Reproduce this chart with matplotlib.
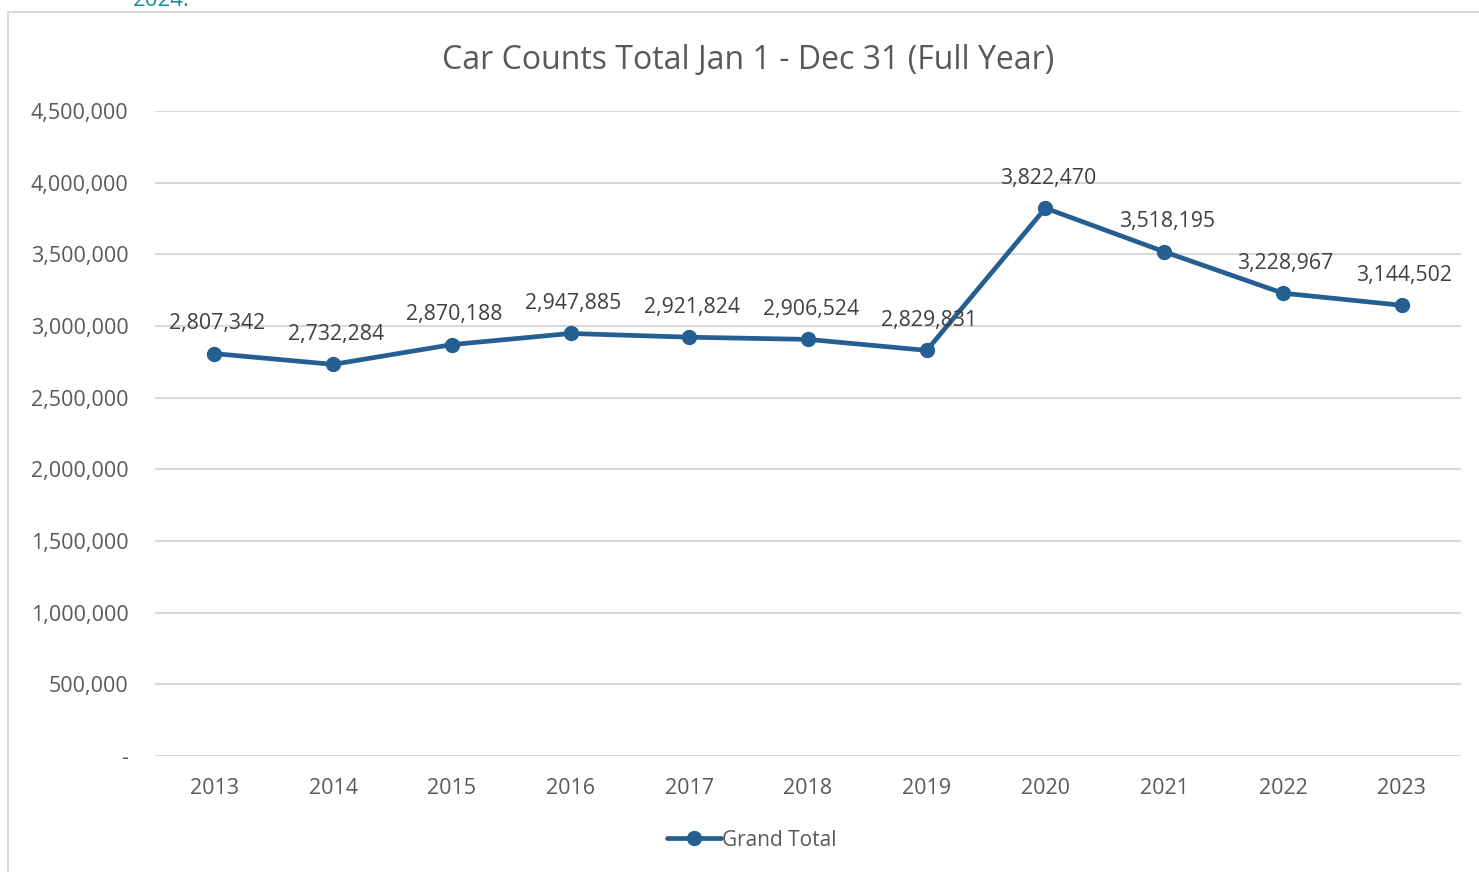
import matplotlib.pyplot as plt
from matplotlib.patches import Rectangle
from matplotlib.ticker import FuncFormatter

# données
annees = ['2013', '2014', '2015', '2016', '2017', '2018', '2019', '2020', '2021', '2022', '2023']
totaux = [2807342, 2732284, 2870188, 2947885, 2921824, 2906524, 2829831, 3822470, 3518195, 3228967, 3144502]
graduations = [0, 500000, 1000000, 1500000, 2000000, 2500000, 3000000, 3500000, 4000000, 4500000]

bleu = '#255E91'
gris_txt = '#595959'
gris_grille = '#D9D9D9'

plt.rcParams['font.family'] = ['Open Sans', 'DejaVu Sans']

fig = plt.figure(figsize=(14.79, 8.72), dpi=100)
ax = fig.add_axes([155/1479, 1-756/872, 1306/1479, 645/872])

# cadre du graphique (coupé à droite et en bas)
fig.patches.append(Rectangle((8/1479, -0.1), 1.2, 1-12/872+0.1, transform=fig.transFigure,
                             fill=False, edgecolor=gris_grille, linewidth=1.5))
# bout de texte coupé en haut, comme sur la capture
fig.text(133/1479, 1.0, '2024.', color='#1A8A96', fontsize=16, va='center', ha='left')

x = list(range(len(annees)))
ax.plot(x, totaux, color=bleu, linewidth=3.4, marker='o', markersize=10,
        solid_capstyle='round', label='Grand Total', zorder=3)

for xi, v in zip(x, totaux):
    ax.annotate(f'{v:,}', (xi, v), xytext=(2, 14), textcoords='offset points',
                ha='center', va='bottom', fontsize=15.3, color='#404040')

ax.set_xlim(-0.5, len(annees) - 0.5)
ax.set_ylim(0, 4500000)
ax.set_yticks(graduations)
ax.yaxis.set_major_formatter(FuncFormatter(lambda v, p: '-' if v == 0 else f'{int(v):,}'))
ax.set_xticks(x)
ax.set_xticklabels(annees)
ax.tick_params(axis='both', length=0, labelsize=15.5, labelcolor=gris_txt)
ax.tick_params(axis='y', pad=19)
ax.tick_params(axis='x', pad=16)
ax.grid(axis='y', color=gris_grille, linewidth=1.5)
ax.set_axisbelow(True)
for s in ax.spines.values():
    s.set_visible(False)

ax.set_title('Car Counts Total Jan 1 - Dec 31 (Full Year)', fontsize=23, color=gris_txt, pad=30,
             x=(748-155)/1306)

leg = ax.legend(loc='center', bbox_to_anchor=((752-155)/1306, -(840-756)/645), frameon=False,
                fontsize=15, handlelength=2.6, handletextpad=0.05)
for t in leg.get_texts():
    t.set_color(gris_txt)

fig.savefig('out.png', dpi=100)
